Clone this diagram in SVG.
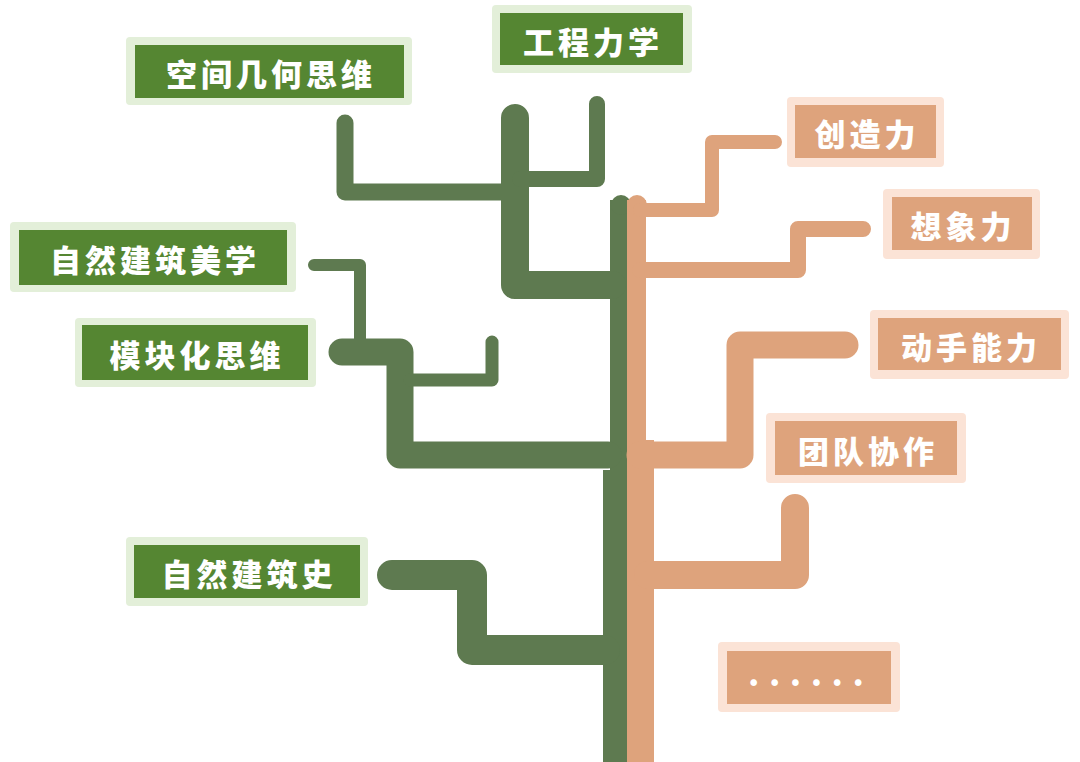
<svg xmlns="http://www.w3.org/2000/svg" width="1080" height="762" viewBox="0 0 1080 762">
<style>
.g{fill:none;stroke:#5e7a50;stroke-linejoin:round;stroke-linecap:round}
.o{fill:none;stroke:#dea37c;stroke-linejoin:round;stroke-linecap:round}
.gb{fill:#e3efd9}.gi{fill:#558632}
.ob{fill:#fbe3d6}.oi{fill:#dea37c}
text{font-family:"Noto Sans CJK SC",sans-serif;font-weight:900;font-size:31px;fill:#fff;text-anchor:middle;dominant-baseline:central;letter-spacing:4px}
</style>
<g id="connectors">
<path d="M610 200 V470 H603 V762 H628 V200 Z" fill="#5e7a50"/>
<circle cx="621" cy="205" r="10" fill="#5e7a50"/>
<path d="M627 200 V762 H654 V440 H646 V200 Z" fill="#dea37c"/>
<circle cx="637" cy="205" r="10" fill="#dea37c"/>
<polyline class="g" stroke-width="17" points="345,123 345,192 505,192"/>
<polyline class="g" stroke-width="28" points="515,118 515,285 612,285"/>
<polyline class="g" stroke-width="16" points="597,104 597,179 520,179"/>
<polyline class="g" stroke-width="12" points="314,265 360,265 360,340"/>
<polyline class="g" stroke-width="27" points="342,352 400,352 400,455 608,455"/>
<polyline class="g" stroke-width="13" points="492,342 492,380 410,380"/>
<polyline class="g" stroke-width="30" points="392,575 472,575 472,650 605,650"/>
<polyline class="o" stroke-width="14" points="775,142 712,142 712,210 640,210"/>
<polyline class="o" stroke-width="16" points="863,229 798,229 798,270 640,270"/>
<polyline class="o" stroke-width="27" points="845,345 740,345 740,455 640,455"/>
<polyline class="o" stroke-width="28" points="795,508 795,575 648,575"/>
</g>
<g id="n1"><rect class="gb" x="126" y="37" width="286" height="68" rx="4"/><rect class="gi" x="135" y="45" width="269" height="53"/><text x="271" y="72">空间几何思维</text></g>
<g id="n2"><rect class="gb" x="492" y="5" width="200" height="68" rx="4"/><rect class="gi" x="500" y="13" width="183" height="52"/><text x="593" y="40">工程力学</text></g>
<g id="n3"><rect class="gb" x="10" y="222" width="286" height="70" rx="4"/><rect class="gi" x="19" y="230" width="268" height="55"/><text x="155" y="258">自然建筑美学</text></g>
<g id="n4"><rect class="gb" x="75" y="318" width="241" height="69" rx="4"/><rect class="gi" x="82" y="325" width="226" height="55"/><text x="197" y="353">模块化思维</text></g>
<g id="n5"><rect class="gb" x="126" y="537" width="242" height="69" rx="4"/><rect class="gi" x="134" y="545" width="226" height="53"/><text x="249" y="572">自然建筑史</text></g>
<g id="n6"><rect class="ob" x="787" y="97" width="157" height="70" rx="4"/><rect class="oi" x="795" y="105" width="141" height="53"/><text x="867" y="132">创造力</text></g>
<g id="n7"><rect class="ob" x="883" y="189" width="157" height="70" rx="4"/><rect class="oi" x="892" y="197" width="140" height="53"/><text x="963" y="224">想象力</text></g>
<g id="n8"><rect class="ob" x="870" y="310" width="199" height="69" rx="4"/><rect class="oi" x="878" y="318" width="183" height="52"/><text x="971" y="345">动手能力</text></g>
<g id="n9"><rect class="ob" x="766" y="413" width="200" height="70" rx="4"/><rect class="oi" x="775" y="421" width="182" height="54"/><text x="868" y="449">团队协作</text></g>
<g id="n10"><rect class="ob" x="718" y="642" width="182" height="70" rx="4"/><rect class="oi" x="727" y="651" width="164" height="53"/><text x="811" y="672" style="letter-spacing:10px">......</text></g>
</svg>
